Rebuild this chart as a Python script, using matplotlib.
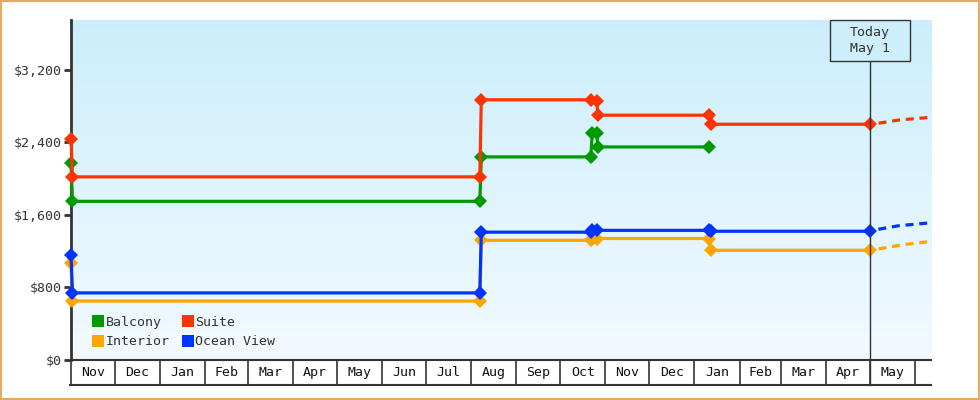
import numpy as np
import pandas as pd
import matplotlib
matplotlib.use("Agg")
import matplotlib.pyplot as plt
import matplotlib.dates as mdates
from matplotlib.lines import Line2D
from matplotlib.patches import Rectangle
from matplotlib.transforms import blended_transform_factory

# ---------------- data ----------------
balcony_dates = ["2023-11-01", "2023-11-02", "2024-08-07", "2024-08-08", "2024-10-22",
                 "2024-10-23", "2024-10-26", "2024-10-27", "2025-01-11"]
balcony_vals = [2170, 1750, 1750, 2240, 2240, 2500, 2500, 2350, 2350]

suite_dates = ["2023-11-01", "2023-11-02", "2024-08-07", "2024-08-08", "2024-10-22",
               "2024-10-26", "2024-10-27", "2025-01-11", "2025-01-12", "2025-05-01"]
suite_vals = [2440, 2020, 2020, 2870, 2870, 2860, 2700, 2700, 2600, 2600]

interior_dates = ["2023-11-01", "2023-11-02", "2024-08-07", "2024-08-08", "2024-10-22",
                  "2024-10-23", "2024-10-26", "2025-01-11", "2025-01-12", "2025-05-01"]
interior_vals = [1070, 650, 650, 1320, 1320, 1340, 1340, 1340, 1210, 1210]

ocean_dates = ["2023-11-01", "2023-11-02", "2024-08-07", "2024-08-08", "2024-10-22",
               "2024-10-23", "2024-10-26", "2025-01-11", "2025-01-12", "2025-05-01"]
ocean_vals = [1160, 740, 740, 1410, 1410, 1430, 1430, 1430, 1420, 1420]

forecast_dates = ["2025-05-01", "2025-05-08", "2025-05-21", "2025-06-12"]
suite_forecast = [2600, 2614, 2647, 2677]
interior_forecast = [1210, 1228, 1265, 1309]
ocean_forecast = [1420, 1445, 1481, 1514]

series_names = ["Balcony", "Interior", "Suite", "Ocean View"]
series_colors = {"Balcony": "#009900", "Suite": "#ff3300",
                 "Interior": "#ffa500", "Ocean View": "#0033ff"}

y_ticks = [0, 800, 1600, 2400, 3200]
y_tick_labels = ["$0", "$800", "$1,600", "$2,400", "$3,200"]
x_start, x_end = "2023-11-01", "2025-06-12"
today_date = "2025-05-01"
today_label = "Today\nMay 1"

# ---------------- figure ----------------
FONT = "DejaVu Sans Mono"
TXT = "#333333"
fig = plt.figure(figsize=(9.8, 4.0), dpi=100)
ax = fig.add_axes([71 / 980, 40 / 400, 860 / 980, 340 / 400])

def d(lst):
    return mdates.date2num(pd.to_datetime(lst))

x0, x1 = d([x_start])[0], d([x_end])[0]
ax.set_xlim(x0, x1)
ax.set_ylim(0, 3750)

# gradient background
grad = np.linspace(0, 1, 256).reshape(-1, 1)
top = np.array([204, 238, 252]) / 255
bot = np.array([242, 250, 255]) / 255
img = top[None, None, :] * (1 - grad[:, :, None]) + bot[None, None, :] * grad[:, :, None]
ax.imshow(img, extent=[0, 1, 0, 1], transform=ax.transAxes, aspect="auto", zorder=0)

lw = 2.3
ms = 7
data = {
    "Balcony": (balcony_dates, balcony_vals),
    "Suite": (suite_dates, suite_vals),
    "Interior": (interior_dates, interior_vals),
    "Ocean View": (ocean_dates, ocean_vals),
}
for name in ["Interior", "Ocean View", "Balcony", "Suite"]:
    ds, vs = data[name]
    ax.plot(d(ds), vs, color=series_colors[name], lw=lw, marker="D", ms=ms,
            markeredgewidth=0, zorder=3, solid_joinstyle="miter", clip_on=False)

for name, fv in [("Suite", suite_forecast), ("Interior", interior_forecast),
                 ("Ocean View", ocean_forecast)]:
    ax.plot(d(forecast_dates), fv, color=series_colors[name], lw=lw,
            ls=(1.5, (2.5, 1.8)), zorder=3, clip_on=True)

# axes styling
for s in ["top", "right", "bottom"]:
    ax.spines[s].set_visible(False)
ax.spines["left"].set_color(TXT)
ax.spines["left"].set_linewidth(2)
ax.spines["left"].set_zorder(2.5)
ax.set_yticks(y_ticks)
ax.set_yticklabels(y_tick_labels, fontfamily=FONT, fontsize=9.5, color=TXT)
ax.tick_params(axis="y", length=5, width=2, color=TXT, pad=2)
ax.set_xticks([])

# month cells under the axis
trans = blended_transform_factory(ax.transData, ax.transAxes)
cell_bot = -25 / 340
ax.plot([x0, x1], [0, 0], transform=trans, color=TXT, lw=1.5, clip_on=False, zorder=5)
ax.plot([x0 - 1, x1], [cell_bot, cell_bot], transform=trans, color=TXT, lw=1.5,
        clip_on=False, zorder=5)
months = pd.date_range(x_start, x_end, freq="MS")
bounds = d(months)
for b in bounds:
    ax.plot([b, b], [0, cell_bot], transform=trans, color=TXT, lw=1.2, clip_on=False)
for i, m in enumerate(months):
    nxt = d([m + pd.offsets.MonthBegin(1)])[0]
    if nxt <= x1:
        ax.text((bounds[i] + nxt) / 2, cell_bot / 2, m.strftime("%b"), transform=trans,
                ha="center", va="center", fontfamily=FONT, fontsize=9.5, color="#111111")

# today marker
tx = d([today_date])[0]
tx_frac = (tx - x0) / (x1 - x0)
box_w, box_h = 80 / 860, 41 / 340
ax.plot([tx, tx], [cell_bot, 1 - box_h], transform=trans, color=TXT, lw=1.0,
        clip_on=False, zorder=4)
ax.add_patch(Rectangle((tx_frac - box_w / 2, 1 - box_h), box_w, box_h,
                       transform=ax.transAxes, fc="#cdeffc", ec=TXT, lw=1.0,
                       zorder=6, clip_on=False))
ax.text(tx, 1 - box_h / 2, today_label, transform=trans, ha="center", va="center",
        fontfamily=FONT, fontsize=9.5, color=TXT, linespacing=1.35, zorder=7)

# legend
handles = [Line2D([], [], ls="none", marker="s", ms=8.5, color=series_colors[n],
                  markeredgewidth=0) for n in series_names]
leg = ax.legend(handles, series_names, ncol=2, loc="lower left",
                bbox_to_anchor=(0.012, 0.0), frameon=False, handlelength=0.8,
                handletextpad=0.15, columnspacing=1.0, labelspacing=0.5,
                prop={"family": FONT, "size": 9.5})
for t in leg.get_texts():
    t.set_color(TXT)

# figure border
fig.patches.append(Rectangle((0.001, 0.002), 0.998, 0.996, transform=fig.transFigure,
                             fill=False, ec="#e8a860", lw=1.5))

fig.savefig("out.png", dpi=100)
